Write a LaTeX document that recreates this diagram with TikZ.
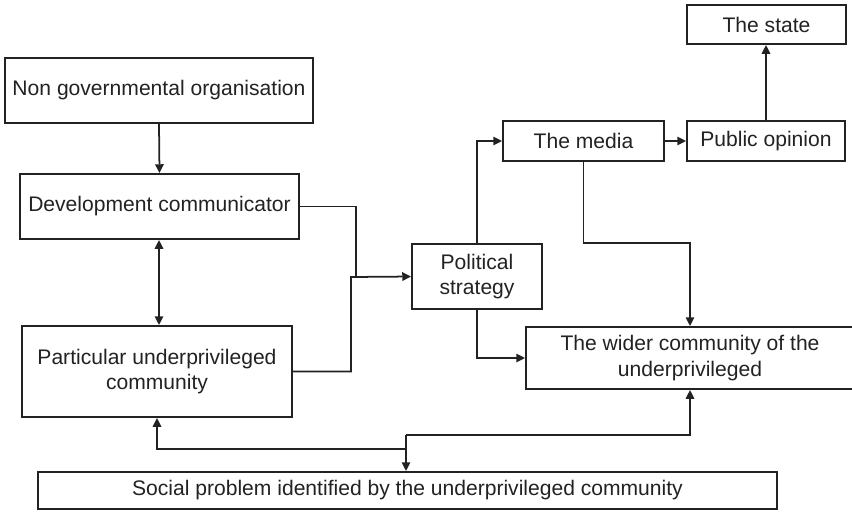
\documentclass[tikz,border=0pt]{standalone}
\usepackage{fontspec}
\setmainfont{Liberation Sans}
\usetikzlibrary{arrows.meta}
\definecolor{ink}{HTML}{222222}
\begin{document}
\begin{tikzpicture}[x=0.02cm, y=-0.02cm,
  box/.style={draw=ink, line width=1.1pt, inner sep=0pt, align=center,
    text=ink, font=\fontsize{12}{14.6}\selectfont},
  link/.style={draw=ink, line width=1pt},
  arr/.style={link, -{Triangle[length=5pt, width=4.8pt]}},
  darr/.style={link, {Triangle[length=5pt, width=4.8pt]}-{Triangle[length=5pt, width=4.8pt]}}]
\useasboundingbox (0,0) rectangle (852,512);

% boxes
\node[box, minimum width=3.18cm, minimum height=0.78cm] (state) at (766.5,24.5) {The state};
\node[box, minimum width=6.16cm, minimum height=1.30cm] (ngo) at (159,90.5) {Non governmental organisation};
\node[box, minimum width=3.22cm, minimum height=0.80cm] (media) at (583.5,141) {The media};
\node[box, minimum width=3.16cm, minimum height=0.80cm] (pubop) at (766,141) {Public opinion};
\node[box, minimum width=5.58cm, minimum height=1.30cm] (dev) at (159.5,206.5) {Development communicator};
\node[box, minimum width=2.60cm, minimum height=1.30cm] (polit) at (477,276.5) {Political\\strategy};
\node[box, minimum width=5.40cm, minimum height=1.82cm] (part) at (157,371.5) {Particular underprivileged\\community};
\node[box, minimum width=6.56cm, minimum height=1.24cm] (wider) at (690,358) {The wider community of the\\underprivileged};
\node[box, minimum width=14.78cm, minimum height=0.74cm] (social) at (407.5,490.5) {Social problem identified by the underprivileged community};

% junction points
\coordinate (jdev) at (356,277);
\coordinate (jpart) at (351,277);
\coordinate (jmed) at (583.5,243);
\coordinate (jtop) at (406,435);
\coordinate (jlow) at (406,449);

% connectors
\draw[arr] (ngo.south) -- (dev.north);
\draw[darr] (dev.south -| part.north) ++(2,0) coordinate (dtop) (dtop) -- (dtop |- part.north);
\draw[link] (dev.east) -| (jdev);
\draw[arr] (part.east) -| (jpart) -- (polit.west);
\draw[arr] (polit.north) |- (media.west);
\draw[arr] (media.east) -- (pubop.west);
\draw[arr] (pubop.north) -- (pubop.north |- state.south);
\draw[arr] (media.south) -- (jmed) -| (wider.north);
\draw[arr] (polit.south) |- (wider.west);
\draw[arr] (jlow) -| (part.south);
\draw[arr] (jtop) -| (wider.south);
\draw[arr] (jtop) -- (jtop |- social.north);
\end{tikzpicture}
\end{document}
